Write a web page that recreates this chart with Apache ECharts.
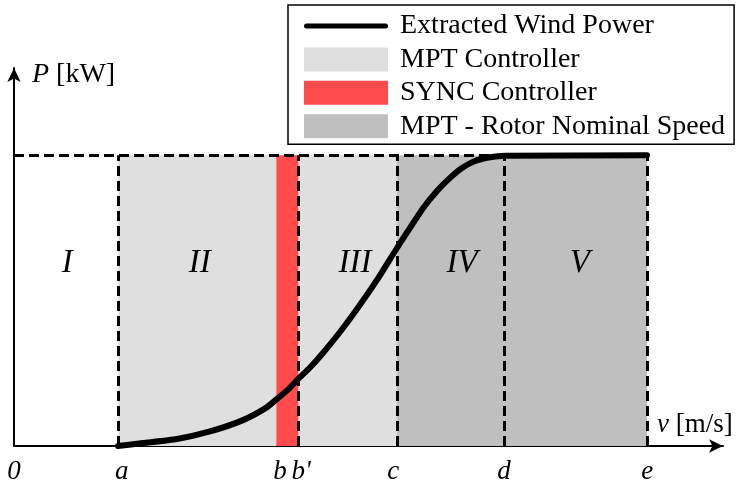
<!DOCTYPE html>
<html>
<head>
<meta charset="utf-8">
<script src="https://cdn.jsdelivr.net/npm/echarts@6/dist/echarts.min.js"></script>
<style>html,body{margin:0;padding:0;background:#fff;}#c{width:739px;height:482px;}</style>
</head>
<body>
<div id="c"></div>
<script>
// ---- data ----
var bounds = { a: 14.7, b: 37.0, bp: 40.1, c: 54.0, d: 69.1, e: 89.3 };
var pMax = 1.0;
var curveV = [14.67, 18.19, 22.99, 27.64, 32.30, 35.54, 37.09, 38.65, 40.06, 41.75, 43.58, 45.98, 48.38, 51.20, 54.02, 55.85, 57.69, 59.66, 61.50, 63.19, 65.02, 67.14, 69.25, 89.28];
var curveP = [0, 0.010, 0.024, 0.050, 0.089, 0.131, 0.162, 0.194, 0.230, 0.270, 0.320, 0.392, 0.471, 0.571, 0.681, 0.750, 0.818, 0.877, 0.922, 0.956, 0.980, 0.993, 0.998, 1.0];
var tickPositions = [0, 15.2, 37.5, 40.5, 53.5, 69.1, 89.3];
var tickLabels = ['0', 'a', 'b', "b'", 'c', 'd', 'e'];
var regionNames = ['I', 'II', 'III', 'IV', 'V'];
var regionLabelV = [7.5, 26.2, 48.1, 63.2, 79.8];
var regionLabelP = [0.627, 0.627, 0.627, 0.627, 0.627];
var legendNames = ['Extracted Wind Power', 'MPT Controller', 'SYNC Controller', 'MPT - Rotor Nominal Speed'];

var FONT = "'Liberation Serif', 'Times New Roman', serif";
var colLight = '#dfdfdf', colRed = '#ff4b4b', colDark = '#bfbfbf';

var chart = echarts.init(document.getElementById('c'), null, { renderer: 'canvas' });

function area(x0, x1, color) {
  return [{ xAxis: x0, yAxis: 0, itemStyle: { color: color, opacity: 1 } }, { xAxis: x1, yAxis: pMax }];
}
function vline(x) {
  return [{ coord: [x, 0] }, { coord: [x, pMax] }];
}

var curveData = curveV.map(function (v, i) { return [v, curveP[i]]; });
var regionData = regionNames.map(function (n, i) { return { name: n, value: [regionLabelV[i], regionLabelP[i]] }; });

var linePath = 'path://M0,0 M84,24 M2.5,9.5 L81.5,9.5 A2.5,2.5 0 0 1 81.5,14.5 L2.5,14.5 A2.5,2.5 0 0 1 2.5,9.5 Z';

var option = {
  backgroundColor: '#fff',
  animation: false,
  textStyle: { fontFamily: FONT },
  grid: { left: 14, right: 16, top: 68, bottom: 36, containLabel: false, outerBoundsMode: 'none' },
  legend: {
    orient: 'vertical',
    left: 288, top: 5,
    padding: [7, 9, 4, 16],
    itemWidth: 84, itemHeight: 24, itemGap: 5.4,
    borderColor: '#000', borderWidth: 1.5, borderRadius: 0,
    backgroundColor: '#fff',
    itemStyle: { borderWidth: 0, opacity: 1 },
    selectedMode: false,
    textStyle: { fontFamily: FONT, fontSize: 28, color: '#000', padding: [0, 0, 0, 7] },
    data: [
      { name: legendNames[0], icon: linePath },
      { name: legendNames[1], icon: 'rect' },
      { name: legendNames[2], icon: 'rect' },
      { name: legendNames[3], icon: 'rect' }
    ]
  },
  xAxis: {
    type: 'value', min: 0, max: 100,
    splitLine: { show: false },
    axisTick: { show: false },
    axisLine: { show: true, onZero: false, lineStyle: { color: '#000', width: 2 }, symbol: ['none', 'arrow'], symbolSize: [10, 14] },
    axisLabel: {
      customValues: tickPositions,
      margin: 12,
      fontFamily: FONT, fontSize: 27, fontStyle: 'italic', color: '#000',
      formatter: function (v) { var i = tickPositions.indexOf(v); return i >= 0 ? tickLabels[i] : ''; }
    },
    name: '{i|v} [m/s]',
    nameLocation: 'end',
    nameGap: -66,
    nameTextStyle: {
      fontFamily: FONT, fontSize: 27, color: '#000', align: 'left', verticalAlign: 'middle', padding: [0, 0, 42, 0],
      rich: { i: { fontFamily: FONT, fontSize: 27, fontStyle: 'italic', color: '#000' } }
    }
  },
  yAxis: {
    type: 'value', min: 0, max: 1.3,
    splitLine: { show: false },
    axisTick: { show: false },
    axisLabel: { show: false },
    axisLine: { show: true, onZero: false, lineStyle: { color: '#000', width: 2 }, symbol: ['none', 'arrow'], symbolSize: [10, 14] },
    name: '{i|P} [kW]',
    nameLocation: 'end',
    nameGap: -7,
    nameTextStyle: {
      fontFamily: FONT, fontSize: 28, color: '#000', align: 'left', verticalAlign: 'middle', padding: [0, 0, 0, 18],
      rich: { i: { fontFamily: FONT, fontSize: 28, fontStyle: 'italic', color: '#000' } }
    }
  },
  series: [
    {
      name: legendNames[1], type: 'scatter', data: [], color: colLight, itemStyle: { color: colLight, opacity: 1 }, z: 1,
      markArea: { silent: true, data: [area(bounds.a, bounds.b, colLight), area(bounds.bp, bounds.c, colLight)] }
    },
    {
      name: legendNames[2], type: 'scatter', data: [], color: colRed, itemStyle: { color: colRed, opacity: 1 }, z: 1,
      markArea: { silent: true, data: [area(bounds.b, bounds.bp, colRed)] }
    },
    {
      name: legendNames[3], type: 'scatter', data: [], color: colDark, itemStyle: { color: colDark, opacity: 1 }, z: 1,
      markArea: { silent: true, data: [area(bounds.c, bounds.d, colDark), area(bounds.d, bounds.e, colDark)] }
    },
    {
      name: 'bounds', type: 'line', data: [], z: 3,
      markLine: {
        silent: true, symbol: ['none', 'none'], label: { show: false },
        lineStyle: { color: '#000', width: 3, type: [10, 5], opacity: 1 },
        data: [
          vline(bounds.a), vline(bounds.bp), vline(bounds.c), vline(bounds.d), vline(bounds.e),
          [{ coord: [0, pMax] }, { coord: [bounds.e, pMax] }]
        ]
      }
    },
    {
      name: 'regions', type: 'scatter', data: regionData, symbolSize: 0, z: 4, silent: true,
      itemStyle: { opacity: 1 },
      label: { show: true, position: 'inside', formatter: '{b}', fontFamily: FONT, fontSize: 33, fontStyle: 'italic', color: '#000', opacity: 1 }
    },
    {
      name: legendNames[0], type: 'line', data: curveData, smooth: 0.2, showSymbol: false, symbol: 'none', z: 5,
      color: '#000', itemStyle: { color: '#000' },
      lineStyle: { color: '#000', width: 6, cap: 'round', join: 'round' }
    }
  ]
};
chart.setOption(option);
</script>
</body>
</html>
